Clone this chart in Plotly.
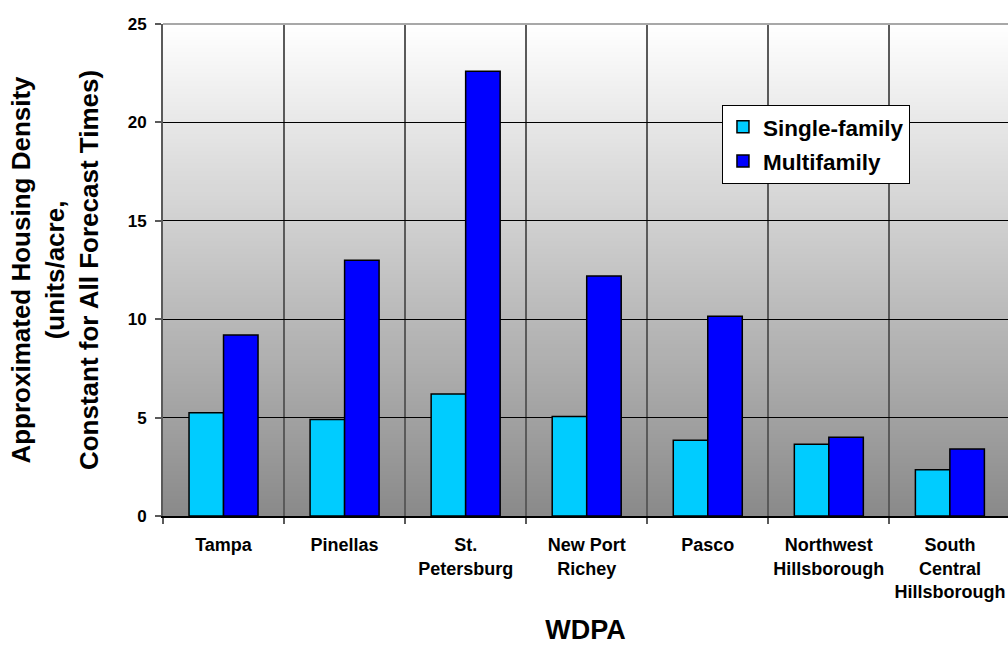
import plotly.graph_objects as go

# WDPA categories and approximate housing densities (units/acre)
categories = [
    "Tampa",
    "Pinellas",
    "St.<br>Petersburg",
    "New Port<br>Richey",
    "Pasco",
    "Northwest<br>Hillsborough",
    "South<br>Central<br>Hillsborough",
]
single_family = [5.25, 4.9, 6.2, 5.05, 3.85, 3.65, 2.35]
multifamily = [9.2, 13.0, 22.6, 12.2, 10.15, 4.0, 3.4]

FONT = "Liberation Sans, Arial, sans-serif"

fig = go.Figure()
fig.add_trace(go.Bar(
    name="Single-family", x=categories, y=single_family, legendgroup="sf",
    marker=dict(color="#00CCFF", line=dict(color="black", width=1.5)),
))
fig.add_trace(go.Bar(
    name="Multifamily", x=categories, y=multifamily, legendgroup="mf",
    marker=dict(color="#0000FF", line=dict(color="black", width=1.5)),
))

# vertical white-to-gray gradient behind the plot area
n_strips = 120
top_rgb, bottom_rgb = 255, 138
shapes = []
for i in range(n_strips):
    t0 = i / n_strips
    t1 = (i + 1) / n_strips
    tm = (t0 + t1) / 2
    c = round(bottom_rgb + (top_rgb - bottom_rgb) * tm)
    shapes.append(dict(
        type="rect", xref="paper", yref="paper",
        x0=0, x1=1, y0=t0, y1=t1 + 0.002,
        fillcolor=f"rgb({c},{c},{c})", line=dict(width=0), layer="below",
    ))
# light frame line along the top of the plot area
shapes.append(dict(
    type="line", xref="paper", yref="paper", x0=0, x1=1, y0=1, y1=1,
    line=dict(color="#a8a8a8", width=2), layer="above",
))

fig.update_layout(
    width=1008, height=645,
    margin=dict(l=163, r=0, t=24, b=129, autoexpand=False),
    paper_bgcolor="white",
    plot_bgcolor="white",
    font=dict(family=FONT, color="black"),
    barmode="group",
    bargap=0.43,
    bargroupgap=0.0,
    shapes=shapes,
    showlegend=True,
    legend=dict(
        x=0.6615, y=0.836, xanchor="left", yanchor="top",
        bgcolor="white", bordercolor="black", borderwidth=1,
        font=dict(family=FONT, size=22.5, weight="bold"),
        traceorder="grouped",
        tracegroupgap=2,
        itemwidth=30,
    ),
)

fig.update_xaxes(
    type="category",
    range=[-0.5, 6.48],
    tickson="boundaries",
    tickangle=0,
    automargin=False,
    showgrid=True, gridcolor="#5a5a5a", gridwidth=2,
    ticks="outside", ticklen=6, tickcolor="#5a5a5a", tickwidth=1.5,
    showline=True, linecolor="black", linewidth=1.5,
    tickfont=dict(family=FONT, size=18, weight="bold"),
    ticklabelstandoff=12,
    title=dict(text="WDPA", font=dict(family=FONT, size=27, weight="bold"), standoff=30),
    fixedrange=True,
)
fig.update_yaxes(
    range=[0, 25], dtick=5, tick0=0,
    automargin=False,
    showgrid=True, gridcolor="black", gridwidth=1,
    ticks="outside", ticklen=6, tickcolor="#5a5a5a", tickwidth=1.5,
    showline=True, linecolor="#5a5a5a", linewidth=2,
    zeroline=False,
    tickfont=dict(family=FONT, size=17, weight="bold"),
    ticklabelstandoff=5,
    title=dict(
        text="Approximated Housing Density<br>(units/acre,<br>Constant for All Forecast Times)",
        font=dict(family=FONT, size=26, weight="bold"),
        standoff=22,
    ),
    fixedrange=True,
)

fig.write_html("out.html")
